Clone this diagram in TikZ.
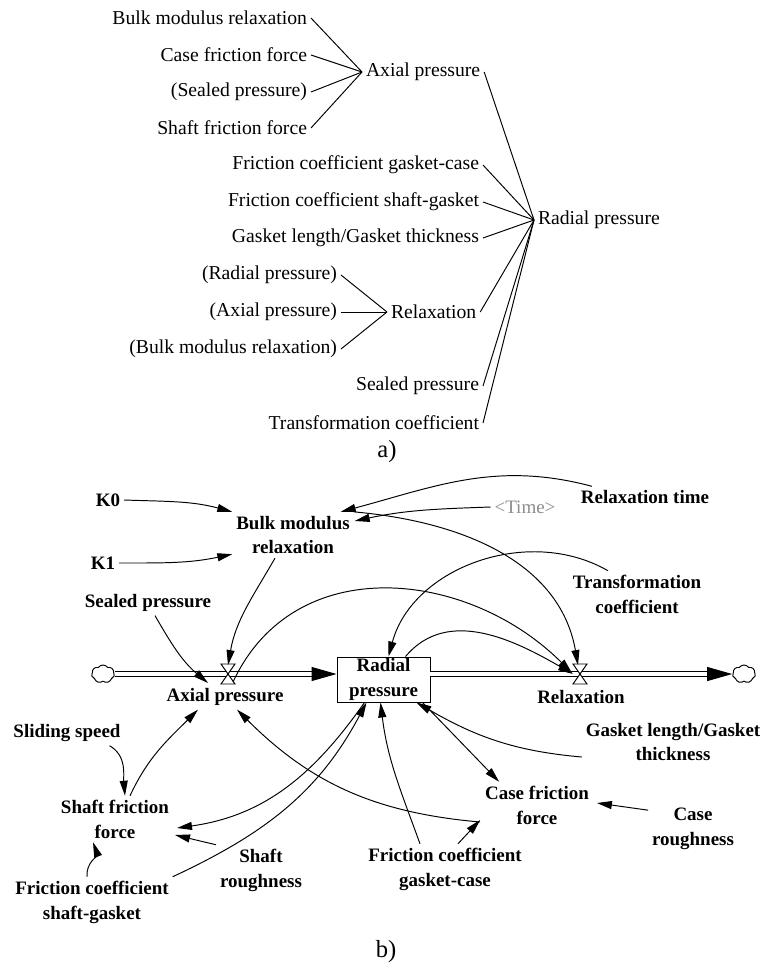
\documentclass[tikz,border=0pt]{standalone}
\usepackage{fontspec}
\setmainfont{Liberation Serif}
\usetikzlibrary{arrows.meta,positioning,shapes.symbols}

\begin{document}
\begin{tikzpicture}[x=0.02cm,y=0.02cm,line width=0.55pt,
 treetxt/.style={font=\fontsize{11.2}{13}\selectfont,inner sep=2pt},
 lab/.style={treetxt,anchor=east},
 tgt/.style={treetxt,anchor=west},
 var/.style={font=\fontsize{10.8}{14.2}\selectfont\bfseries,align=center,inner sep=2pt},
 link/.style={-{Triangle[length=0.3cm,width=0.16cm]}},
 pipe/.style={double,double distance=0.075cm,line width=0.6pt},
 pipetip/.style={-{Triangle[length=0.5cm,width=0.28cm]}},
 puff/.style={cloud,draw,cloud puffs=7,cloud puff arc=110,aspect=1.3,minimum width=0.46cm,minimum height=0.36cm,inner sep=0pt,fill=white},
 valve/.pic={\draw[fill=white] (-7,10)--(7,10)--(-7,-10)--(7,-10)--cycle;}]

\useasboundingbox (0,0) rectangle (767,-967);

% a) causes tree
\node[lab] (bulkA) at (311,-18) {Bulk modulus relaxation};
\node[lab] (caseA) at (311,-55) {Case friction force};
\node[lab] (sealA) at (311,-92) {(Sealed pressure)};
\node[lab] (shaftA) at (311,-128) {Shaft friction force};
\node[tgt] (axialA) at (362,-72) {Axial pressure};
\node[lab] (fcgcA) at (483,-165) {Friction coefficient gasket-case};
\node[lab] (fcsgA) at (483,-202) {Friction coefficient shaft-gasket};
\node[lab] (glA) at (483,-238) {Gasket length/Gasket thickness};
\node[lab] (radpA) at (341,-275) {(Radial pressure)};
\node[lab] (axpA) at (341,-312) {(Axial pressure)};
\node[lab] (bulkpA) at (341,-349) {(Bulk modulus relaxation)};
\node[tgt] (relaxA) at (387,-312) {Relaxation};
\node[lab] (sealpA) at (483,-386) {Sealed pressure};
\node[lab] (transA) at (483,-423) {Transformation coefficient};
\node[tgt] (radialA) at (534,-220) {Radial pressure};
\foreach \n in {bulkA,caseA,sealA,shaftA} \draw (\n.east) -- (axialA.west);
\foreach \n in {radpA,axpA,bulkpA} \draw (\n.east) -- (relaxA.west);
\foreach \n in {axialA,fcgcA,fcsgA,glA,relaxA,sealpA,transA} \draw (\n.east) -- (radialA.west);
\node[font=\fontsize{14}{16}\selectfont] (capA) at (387,-452) {a)};

% b) stock and flow
\node[var] (k0) at (108,-500) {K0};
\node[var] (k1) at (103,-563) {K1};
\node[var] (bulk) at (293,-535) {Bulk modulus\\relaxation};
\node[var] (seal) at (148,-603) {Sealed pressure};
\node[var] (rtime) at (645,-497) {Relaxation time};
\node[font=\fontsize{10.8}{14.2}\selectfont,text=black!45,inner sep=2pt] (time) at (525,-507) {\textless Time\textgreater};
\node[var] (trans) at (637,-594) {Transformation\\coefficient};
\node[puff] (src) at (103,-674) {};
\node[puff] (sink) at (744,-674) {};
\node[var,draw,minimum width=1.86cm,minimum height=0.9cm,inner sep=0pt] (rad) at (383.5,-679.5) {Radial\\pressure};
\coordinate (axv) at (228,-674);
\coordinate (relv) at (580,-674);
\node[var] (axl) at (225,-697) {Axial pressure};
\node[var] (rell) at (581,-697) {Relaxation};
\node[var] (slide) at (67,-733) {Sliding speed};
\node[var] (sff) at (115,-819) {Shaft friction\\force};
\node[var] (sro) at (261,-870) {Shaft\\roughness};
\node[var] (fcsg) at (92,-902) {Friction coefficient\\shaft-gasket};
\node[var] (fcgc) at (445,-869) {Friction coefficient\\gasket-case};
\node[var] (cff) at (537,-805) {Case friction\\force};
\node[var] (cro) at (693,-829) {Case\\roughness};
\node[var] (gl) at (673,-742) {Gasket length/Gasket\\thickness};
\node[font=\fontsize{14}{16}\selectfont] (capB) at (386,-952) {b)};

\coordinate (radin) at (src.east -| rad.west);
\coordinate (radout) at (rad.east |- sink.west);
\draw[pipe] (src.east) -- ([shift={(-22,0)}]radin);
\draw[pipetip] ([shift={(-24,0)}]radin) -- (radin);
\draw[pipe] (radout) -- ([shift={(-22,0)}]sink.west);
\draw[pipetip] ([shift={(-24,0)}]sink.west) -- (sink.west);
\pic at (axv) {valve};
\pic at (relv) {valve};

\draw[link] (k0.east) to[out=-2,in=165] (bulk.north west);
\draw[link] (k1.east) to[out=0,in=192] ([shift={(0,4)}]bulk.south west);
\draw[link] ([shift={(15,0)}]rtime.north west) to[out=165,in=15] ([shift={(-13,0)}]bulk.north east);
\draw[link] (time.west) to[out=182,in=12] ([shift={(1,14)}]bulk.east);
\draw[link] (bulk.north east) to[out=-5,in=100] ([shift={(-2,9)}]relv);
\draw[link] ([shift={(-18,0)}]bulk.south) to[out=-120,in=80] ([shift={(0,9)}]axv);
\draw[link] ([shift={(7,0)}]seal.south) to[out=-60,in=140] ([shift={(-20,-9)}]axv);
\draw[link] ([shift={(5,-8)}]axv) to[out=65,in=135,looseness=1.1] ([shift={(-8,1)}]relv);
\draw[link] ([shift={(22,0)}]rad.north) to[out=50,in=150] ([shift={(-7,0)}]relv);
\draw[link] ([shift={(-29,0)}]trans.north) to[out=150,in=75] ([shift={(5,0)}]rad.north);
\draw[link] ([shift={(0,-15)}]gl.west) to[out=175,in=-30] ([shift={(-14,0)}]rad.south east);
\draw[link] ([shift={(-8,0)}]rad.south east) -- ([shift={(18,0)}]cff.north west);
\draw[link] ([shift={(0,-6)}]cro.north west) -- ([shift={(4,2)}]cff.east);
\draw[link] ([shift={(13,0)}]fcgc.north) -- ([shift={(-1,-15)}]cff.west);
\draw[link] ([shift={(-25,0)}]fcgc.north) to[out=110,in=-83] ([shift={(-3,0)}]rad.south);
\draw[link] ([shift={(-1,-17)}]cff.west) to[out=175,in=-45] ([shift={(12,0)}]axl.south);
\draw[link] (fcsg.north east) to[out=25,in=-118] ([shift={(-17,0)}]rad.south);
\draw[link] ([shift={(-19,0)}]rad.south) to[out=-125,in=8] ([shift={(4,-9)}]sff.east);
\draw[link] (sro.north west) -- ([shift={(2,-16)}]sff.east);
\draw[link] ([shift={(-5,0)}]fcsg.north) to[out=95,in=-70] ([shift={(-22,0)}]sff.south);
\draw[link] ([shift={(-15,0)}]slide.south east) to[out=-30,in=95] ([shift={(10,0)}]sff.north);
\draw[link] ([shift={(15,0)}]sff.north) to[out=65,in=-135] ([shift={(-27,0)}]axl.south);
\end{tikzpicture}
\end{document}
